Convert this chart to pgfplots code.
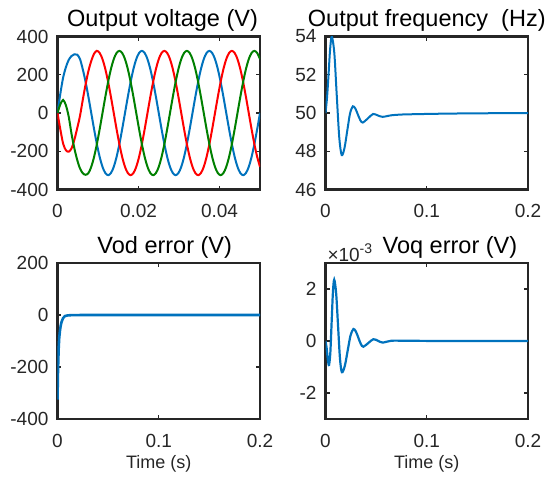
\documentclass[border=0pt]{standalone}
\usepackage{pgfplots}
\usepackage{pgfplotstable}
\pgfplotsset{compat=1.18}
\usepackage{fontspec}
\setmainfont{Liberation Sans}
\definecolor{mblue}{rgb}{0,0.447,0.741}
\definecolor{mred}{rgb}{1,0,0}
\definecolor{mgreen}{rgb}{0,0.5,0}
\definecolor{axcol}{HTML}{262626}

\pgfplotstableread{
t b r g
0 0 0 0
0.000694 100 -85 45
0.001389 185 -160 68
0.002083 240 -195 40
0.002778 278 -202 -20
0.003472 298 -185 -110
0.004167 307 -140 -185
0.004861 305 -80 -245
0.005556 282 -15 -290
0.006250 228 70 -315
0.006944 162 150 -323
0.007639 84 220 -314
0.008333 0 272 -281.5
0.009028 -84.1 310 -229.8
0.009722 -162.5 325 -162.5
0.010417 -229.8 313.9 -84.1
0.011111 -281.5 281.5 0
0.011806 -313.9 229.8 84.1
0.012500 -325 162.5 162.5
0.013194 -313.9 84.1 229.8
0.013889 -281.5 0 281.5
0.014583 -229.8 -84.1 313.9
0.015278 -162.5 -162.5 325
0.015972 -84.1 -229.8 313.9
0.016667 0 -281.5 281.5
0.017361 84.1 -313.9 229.8
0.018056 162.5 -325 162.5
0.018750 229.8 -313.9 84.1
0.019444 281.5 -281.5 0
0.020139 313.9 -229.8 -84.1
0.020833 325 -162.5 -162.5
0.021528 313.9 -84.1 -229.8
0.022222 281.5 0 -281.5
0.022917 229.8 84.1 -313.9
0.023611 162.5 162.5 -325
0.024306 84.1 229.8 -313.9
0.025000 0 281.5 -281.5
0.025694 -84.1 313.9 -229.8
0.026389 -162.5 325 -162.5
0.027083 -229.8 313.9 -84.1
0.027778 -281.5 281.5 0
0.028472 -313.9 229.8 84.1
0.029167 -325 162.5 162.5
0.029861 -313.9 84.1 229.8
0.030556 -281.5 0 281.5
0.031250 -229.8 -84.1 313.9
0.031944 -162.5 -162.5 325
0.032639 -84.1 -229.8 313.9
0.033333 0 -281.5 281.5
0.034028 84.1 -313.9 229.8
0.034722 162.5 -325 162.5
0.035417 229.8 -313.9 84.1
0.036111 281.5 -281.5 0
0.036806 313.9 -229.8 -84.1
0.037500 325 -162.5 -162.5
0.038194 313.9 -84.1 -229.8
0.038889 281.5 0 -281.5
0.039583 229.8 84.1 -313.9
0.040278 162.5 162.5 -325
0.040972 84.1 229.8 -313.9
0.041667 0 281.5 -281.5
0.042361 -84.1 313.9 -229.8
0.043056 -162.5 325 -162.5
0.043750 -229.8 313.9 -84.1
0.044444 -281.5 281.5 0
0.045139 -313.9 229.8 84.1
0.045833 -325 162.5 162.5
0.046528 -313.9 84.1 229.8
0.047222 -281.5 0 281.5
0.047917 -229.8 -84.1 313.9
0.048611 -162.5 -162.5 325
0.049306 -84.1 -229.8 313.9
0.050000 0 -281.5 281.5
}\voltdata

\pgfplotstableread{
t f
0 50
0.0015 50.8
0.003 52.0
0.0045 53.3
0.0062 54.0
0.0087 53.14
0.0111 50.93
0.0136 48.71
0.016 47.8
0.01875 48.17
0.0215 49.08
0.02425 49.98
0.027 50.35
0.0295 50.23
0.0319 49.93
0.0344 49.62
0.0368 49.5
0.0419 49.72
0.047 49.95
0.0518 49.87
0.0565 49.8
0.065 49.88
0.075 49.92
0.09 49.94
0.11 49.96
0.14 49.98
0.17 49.99
0.2 50.0
}\freqdata

\pgfplotstableread{
t e
0 -325
0.0004 -230
0.0008 -173
0.0012 -125
0.0017 -88
0.0025 -58
0.0033 -38
0.0041 -26
0.0055 -12
0.0074 -4
0.01 -1.5
0.015 -0.3
0.03 0
0.2 0
}\voddata

\pgfplotstableread{
t e
0 0
0.0012 -0.0003
0.0024 -0.00075
0.0035 -0.00092
0.00478 -0.00044
0.00605 0.00072
0.00733 0.00188
0.0086 0.00236
0.0105 0.00184
0.0124 0.00058
0.0143 -0.00068
0.0162 -0.0012
0.01905 -0.00096
0.0219 -0.00037
0.02475 0.00022
0.0276 0.00046
0.03005 0.00036
0.0325 0.00012
0.03495 -0.00012
0.0374 -0.00022
0.04235 -0.000075
0.0473 0.00007
0.052 0.000005
0.0565 -0.00006
0.065 0.00001
0.08 0.00001
0.12 0
0.2 0
}\voqdata

\pgfplotsset{
 every axis title shift=0pt,
 mystyle/.style={
  scale only axis,
  anchor=south west,
  width=101.25pt,
  scaled x ticks=false,
  scaled y ticks=false,
  axis line style={line width=1.15pt, draw=axcol},
  tick align=inside,
  major tick length=2pt,
  tick style={draw=axcol, line width=0.7pt},
  ticklabel style={font=\fontsize{9.5}{11}\selectfont, text=axcol},
  xticklabel style={yshift=-4pt},
  yticklabel style={xshift=-1pt},
  title style={font=\fontsize{11.75}{14}\selectfont, anchor=base, at={(axis description cs:0.5,1)}, yshift=5pt},
  xlabel style={font=\fontsize{9}{11}\selectfont, text=axcol, at={(axis description cs:0.5,0)}, anchor=base, yshift=-24.5pt},
 }
}

\begin{document}
\begin{tikzpicture}
\useasboundingbox (0,0) rectangle (277.5pt,239.5pt);

% Top-left: output voltage
\begin{axis}[mystyle, at={(28.75pt,144.75pt)}, height=76.5pt,
  xmin=0, xmax=0.05, ymin=-400, ymax=400,
  xtick={0,0.02,0.04}, xticklabels={0,0.02,0.04},
  ytick={-400,-200,0,200,400}, yticklabels={-400,-200,0,200,400},
  title={Output voltage (V)}, title style={xshift=1.9pt}]
\addplot[mblue, line width=1pt, smooth] table[x=t,y=b] {\voltdata};
\addplot[mred, line width=1pt, smooth] table[x=t,y=r] {\voltdata};
\addplot[mgreen, line width=1pt, smooth] table[x=t,y=g] {\voltdata};
\end{axis}

% Top-right: output frequency
\begin{axis}[mystyle, at={(162.75pt,144.75pt)}, height=76.5pt,
  xmin=0, xmax=0.2, ymin=46, ymax=54,
  xtick={0,0.1,0.2}, xticklabels={0,0.1,0.2},
  ytick={46,48,50,52,54}, yticklabels={46,48,50,52,54},
  title={Output frequency\ \ (Hz)}]
\addplot[mblue, line width=1pt, smooth] table[x=t,y=f] {\freqdata};
\end{axis}

% Bottom-left: Vod error
\begin{axis}[mystyle, at={(28.75pt,30pt)}, height=78pt,
  xmin=0, xmax=0.2, ymin=-400, ymax=200,
  xtick={0,0.1,0.2}, xticklabels={0,0.1,0.2},
  ytick={-400,-200,0,200}, yticklabels={-400,-200,0,200},
  title={Vod error (V)}, title style={xshift=3pt},
  xlabel={Time (s)}]
\addplot[mblue, line width=1.3pt] table[x=t,y=e] {\voddata};
\end{axis}

% Bottom-right: Voq error
\begin{axis}[mystyle, name=br, at={(162.75pt,30pt)}, height=78pt,
  xmin=0, xmax=0.2, ymin=-0.003, ymax=0.003,
  xtick={0,0.1,0.2}, xticklabels={0,0.1,0.2},
  ytick={-0.002,0,0.002}, yticklabels={-2,0,2},
  title={Voq error (V)}, title style={xshift=11.6pt},
  xlabel={Time (s)}]
\addplot[mblue, line width=1.1pt, smooth] table[x=t,y=e] {\voqdata};
\end{axis}
\node[anchor=base west, inner sep=0pt, text=axcol, font=\fontsize{9.5}{11}\selectfont]
  at ([xshift=0.8pt,yshift=0.6pt]br.north west) {×10\raisebox{4pt}{\fontsize{7}{8}\selectfont -3}};
\end{tikzpicture}
\end{document}
